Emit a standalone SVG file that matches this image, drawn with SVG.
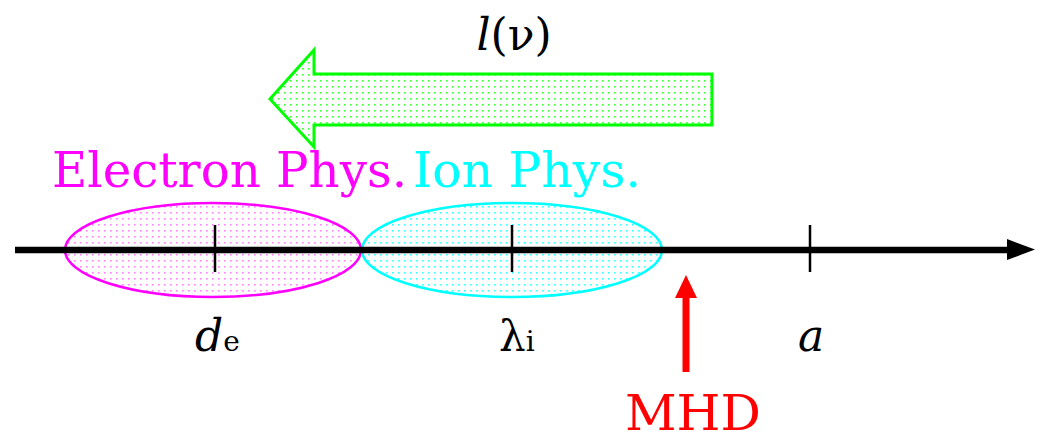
<svg xmlns="http://www.w3.org/2000/svg" width="1037" height="436" viewBox="0 0 1037 436">
<defs>
<pattern id="dotG" width="6" height="6" patternUnits="userSpaceOnUse"><rect x="2" y="2" width="1.6" height="1.6" fill="#00ff00" opacity="0.8"/></pattern>
<pattern id="dotM" width="6" height="6" patternUnits="userSpaceOnUse"><rect x="2" y="2" width="1.6" height="1.6" fill="#ff00ff" opacity="0.5"/></pattern>
<pattern id="dotC" width="6" height="6" patternUnits="userSpaceOnUse"><rect x="2" y="2" width="1.6" height="1.6" fill="#00ffff" opacity="0.8"/></pattern>
</defs>
<style>
text{font-family:"DejaVu Serif","Liberation Serif",serif;}
.it{font-style:italic;}
.tick{stroke:#000;stroke-width:2.5;}
</style>
<rect width="1037" height="436" fill="#fff"/>
<g id="scale-arrow">
<polygon points="270,99 314,50 314,74 712,74 712,125 314,125 314,147" fill="url(#dotG)" stroke="#00ff00" stroke-width="3" stroke-linejoin="miter"/>
<text x="514" y="50" font-size="44" text-anchor="middle"><tspan class="it">l</tspan>(ν)</text>
</g>
<g id="electron">
<ellipse cx="213" cy="250" rx="148" ry="47" fill="url(#dotM)" stroke="#ff00ff" stroke-width="2.5"/>
<text x="52" y="187" font-size="48" fill="#ff00ff" textLength="355" lengthAdjust="spacingAndGlyphs">Electron Phys.</text>
</g>
<g id="ion">
<ellipse cx="512" cy="250" rx="150" ry="47" fill="url(#dotC)" stroke="#00ffff" stroke-width="2.5"/>
<text x="413" y="187" font-size="48" fill="#00ffff" textLength="228" lengthAdjust="spacingAndGlyphs">Ion Phys.</text>
</g>
<g id="connectors">
<line x1="15" y1="250" x2="1008" y2="250" stroke="#000" stroke-width="6.5"/>
<polygon points="1007,239 1035,249.5 1007,260" fill="#000"/>
<line class="tick" x1="215" y1="225" x2="215" y2="272"/>
<line class="tick" x1="512" y1="225" x2="512" y2="272"/>
<line class="tick" x1="810" y1="225" x2="810" y2="272"/>
<line x1="686" y1="372" x2="686" y2="296" stroke="#ff0000" stroke-width="7"/>
<polygon points="686,275 697,298 675,298" fill="#ff0000"/>
</g>
<g id="labels">
<text x="195" y="351" font-size="44"><tspan class="it">d</tspan><tspan font-size="28">e</tspan></text>
<text x="499" y="351" font-size="42">λ<tspan font-size="28">i</tspan></text>
<text class="it" x="798" y="351" font-size="44">a</text>
</g>
<g id="mhd">
<text x="625" y="430" font-size="48" fill="#ff0000" textLength="136" lengthAdjust="spacingAndGlyphs">MHD</text>
</g>
</svg>
